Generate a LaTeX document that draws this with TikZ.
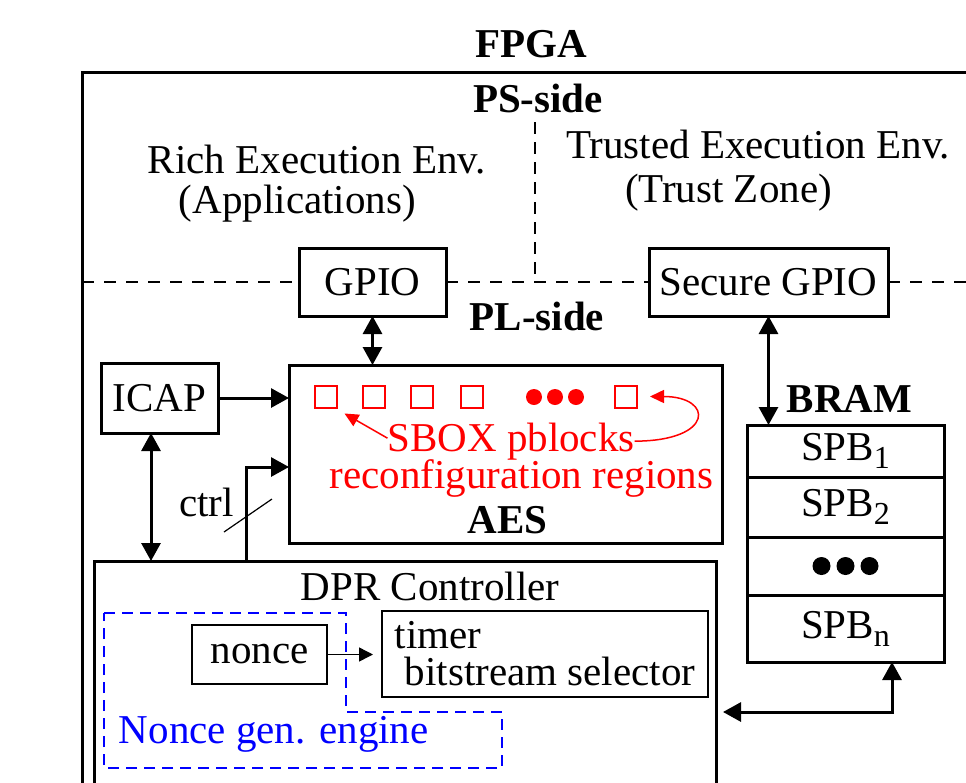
\documentclass[tikz,border=0pt]{standalone}
\usepackage{fontspec}
\setmainfont{Liberation Serif}
\usetikzlibrary{calc,arrows.meta}

\newcommand{\spbrow}[1]{SPB\raisebox{-4pt}{\fontsize{16}{16}\selectfont #1}}

\begin{document}
\begin{tikzpicture}[x=0.5pt,y=-0.5pt,inner sep=0pt,outer sep=0pt,
    every node/.style={font=\fontsize{20.5}{21}\selectfont},
    bold/.style={font=\fontsize{20.5}{21}\selectfont\bfseries},
    box/.style={draw,line width=1.5pt},
    thinbox/.style={draw,line width=0.75pt},
    pblock/.style={draw=red,line width=1pt,minimum size=11pt},
    border/.style={line width=1.4pt,dash pattern=on 6pt off 5pt},
    link/.style={line width=1.5pt,-{Triangle[length=9pt,width=9.5pt]}},
    link2/.style={line width=1.5pt,{Triangle[length=9pt,width=9.5pt]}-{Triangle[length=9pt,width=9.5pt]}},
    tlink/.style={line width=0.75pt,-{Triangle[length=7pt,width=7pt]}},
    rlink/.style={red,line width=0.75pt,-{Triangle[length=7pt,width=6.5pt]}}]
    \useasboundingbox (0,0) rectangle (966,783);
    \clip (0,0) rectangle (966,783);

    % FPGA outline (runs off to the right and below)
    \coordinate (fpga_nw) at (82,72);
    \draw[line width=1.5pt] (fpga_nw) rectangle (1100,900);
    \node[anchor=base,bold] (fpga_lbl) at (531,57) {FPGA};

    % PS-side
    \node[anchor=base,bold] (ps_lbl) at (538,112) {PS-side};
    % (base of a two-line node sits on its last line)
    \node[anchor=base west,align=left,font=\fontsize{20.5}{20}\selectfont] (ree)
    at (148,213) {Rich Execution Env.\\\hspace*{15.5pt}(Applications)};
    \node[anchor=base west,align=left,font=\fontsize{20.5}{22}\selectfont] (tee)
    at (566,202) {Trusted Execution Env.\\\hspace*{29.5pt}(Trust Zone)};

    \node[box,minimum width=73.5pt,minimum height=34pt] (gpio) at (372.5,282) {GPIO};
    \node[box,minimum width=119.5pt,minimum height=34pt] (sgpio) at (768.5,282) {Secure GPIO};

    % PS / PL border
    \coordinate (ps_split) at (535,122);
    \draw[border] (gpio.west -| fpga_nw) -- (gpio.west);
    \draw[border] (gpio.east) -- (sgpio.west);
    \draw[border] (sgpio.east) -- ($(sgpio.east)+(200,0)$);
    \draw[border,line width=1.2pt,dash pattern=on 6pt off 4pt] (ps_split) -- (ps_split |- gpio.west);

    % PL-side
    \node[anchor=base,bold] (pl_lbl) at (537,330) {PL-side};

    % AES with the SBOX pblocks
    \node[box,minimum width=216.5pt,minimum height=89pt] (aes) at (505.5,454) {};
    \node[anchor=base,bold] (aes_lbl) at (507.5,533) {AES};
    \node[pblock] (pb1) at (325.5,396.5) {};
    \node[pblock] (pb2) at (374,396.5) {};
    \node[pblock] (pb3) at (421.5,396.5) {};
    \node[pblock] (pb4) at (472,396.5) {};
    \node[pblock] (pb5) at (625.5,396.5) {};
    \fill[red] (534,397) circle (8);
    \fill[red] (555,397) circle (8);
    \fill[red] (576,397) circle (8);
    \node[anchor=base,red] (pb_lbl) at (511,451) {SBOX pblocks};
    \node[anchor=base,red] (rr_lbl) at (521.5,488) {reconfiguration regions};
    \draw[rlink] ($(pb_lbl.west)+(0,-3)$) -- ($(pb1.south east)+(8,6)$);
    \draw[rlink] (pb_lbl.east) .. controls +(80,0) and +(64,0) .. ($(pb5.east)+(13.5,0)$);

    % ICAP
    \node[box,minimum width=58.5pt,minimum height=35pt] (icap) at (159.5,398) {ICAP};

    % DPR controller
    \node[box,minimum width=310.75pt,minimum height=134.5pt] (dpr) at (405.25,695.5) {};
    \node[anchor=base] (dpr_lbl) at (430,600) {DPR Controller};
    \draw[blue,line width=1.2pt,dash pattern=on 5.5pt off 3.5pt]
    (104,613) -- (346,613) -- (346,712) -- (502,712) -- (502,768) -- (104,768) -- cycle;
    \node[thinbox,minimum width=67.5pt,minimum height=29.5pt] (nonce) at (259.5,654.5) {nonce};
    \node[thinbox,minimum width=163pt,minimum height=43pt,align=left,
    font=\fontsize{20.5}{18.5}\selectfont] (sel) at (545,654) {timer\\\hspace*{5pt}bitstream selector};
    \node[anchor=base west,blue] (nge_lbl) at (119,743) {Nonce gen. engine};
    \draw[tlink] (nonce.east) -- ($(nonce.east -| sel.west)+(-9,0)$);

    % BRAM
    \node[anchor=base,bold] (bram_lbl) at (849.5,412) {BRAM};
    \node[box,minimum width=98.5pt,minimum height=26pt,anchor=north] (spb1) at (845.5,425) {\spbrow{1}};
    \node[box,minimum width=98.5pt,minimum height=30pt,anchor=north] (spb2) at (spb1.south) {\spbrow{2}};
    \node[box,minimum width=98.5pt,minimum height=29pt,anchor=north] (spb3) at (spb2.south) {};
    \node[box,minimum width=98.5pt,minimum height=33.5pt,anchor=north] (spb4) at (spb3.south) {\spbrow{n}};
    \fill ($(spb3.center)+(-24,0)$) circle (9);
    \fill (spb3.center) circle (9);
    \fill ($(spb3.center)+(24,0)$) circle (9);

    % connections
    \draw[link2] (gpio.south) -- (gpio.south |- aes.north);
    \draw[link2] (sgpio.south) -- (sgpio.south |- spb1.north);
    \draw[link] (icap.east) -- (icap.east -| aes.west);
    \draw[link2] ($(icap.south)+(-8.5,0)$) -- ($(icap.south |- dpr.north)+(-8.5,0)$);

    % ctrl bus
    \coordinate (ctrl_foot) at ($(dpr.north west)+(151.5,0)$);
    \draw[link] (ctrl_foot) |- ($(aes.west)+(0,13)$);
    \draw[line width=0.6pt] ($(ctrl_foot)+(-22,-29)$) -- ($(ctrl_foot)+(26,-62)$);
    \node[anchor=base east] (ctrl_lbl) at ($(ctrl_foot)+(-12,-45)$) {ctrl};

    % BRAM <-> DPR controller
    \coordinate (bram_row) at (0,712);
    \coordinate (bram_tap) at ($(spb4.south)+(46.5,0)$);
    \draw[link2] ($(dpr.east |- bram_row)+(7,0)$) -| (bram_tap);

\end{tikzpicture}
\end{document}
